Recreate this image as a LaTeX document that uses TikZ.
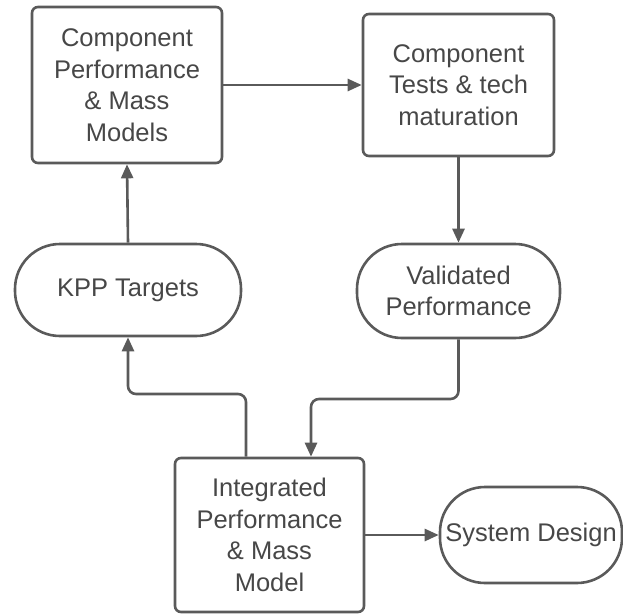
\documentclass[tikz,border=0pt]{standalone}
\usepackage{fontspec}
\setmainfont{Liberation Sans}
\usetikzlibrary{arrows.meta,calc}
\definecolor{edge}{HTML}{5A5A5A}
\definecolor{ink}{HTML}{474747}
\tikzset{
  block/.style={draw=edge, line width=2.6pt, rounded corners=6pt, fill=white,
    align=center, text=ink, inner sep=0pt,
    font=\fontsize{25.5}{31.5}\selectfont},
  pill/.style={block, rounded corners=45pt},
  link/.style={draw=edge, line width=2.6pt, rounded corners=8pt,
    -{Triangle[length=14pt,width=12pt]}},
}
\begin{document}
\begin{tikzpicture}[x=1pt,y=-1pt]
  \useasboundingbox (0,0) rectangle (623,615);

  \node[block, minimum width=190pt, minimum height=156pt] (cpm) at (127,85)
    {Component\\Performance\\\& Mass\\Models};
  \node[block, minimum width=191pt, minimum height=142pt] (ctt) at (458.5,85)
    {Component\\Tests \& tech\\maturation};
  \node[pill, minimum width=226pt, minimum height=92pt] (kpp) at (128,290)
    {KPP Targets};
  \node[pill, minimum width=203pt, minimum height=94pt] (val) at (458.5,291)
    {Validated\\Performance};
  \node[block, minimum width=189pt, minimum height=154pt] (ipm) at (269.5,535)
    {Integrated\\Performance\\\& Mass\\Model};
  \node[pill, minimum width=182pt, minimum height=96pt] (sys) at (531,535)
    {System Design};

  \coordinate (up)   at (246,394);
  \coordinate (down) at (311,399);

  \draw[link] (cpm.east) -- (ctt.west);
  \draw[link] (ctt.south) -- (val.north);
  \draw[link] (kpp.north) -- (cpm.south);
  \draw[link] (val.south) |- (down) -- (down |- ipm.north);
  \draw[link] (up |- ipm.north) -- (up) -| (kpp.south);
  \draw[link] (ipm.east) -- (sys.west);
\end{tikzpicture}
\end{document}
